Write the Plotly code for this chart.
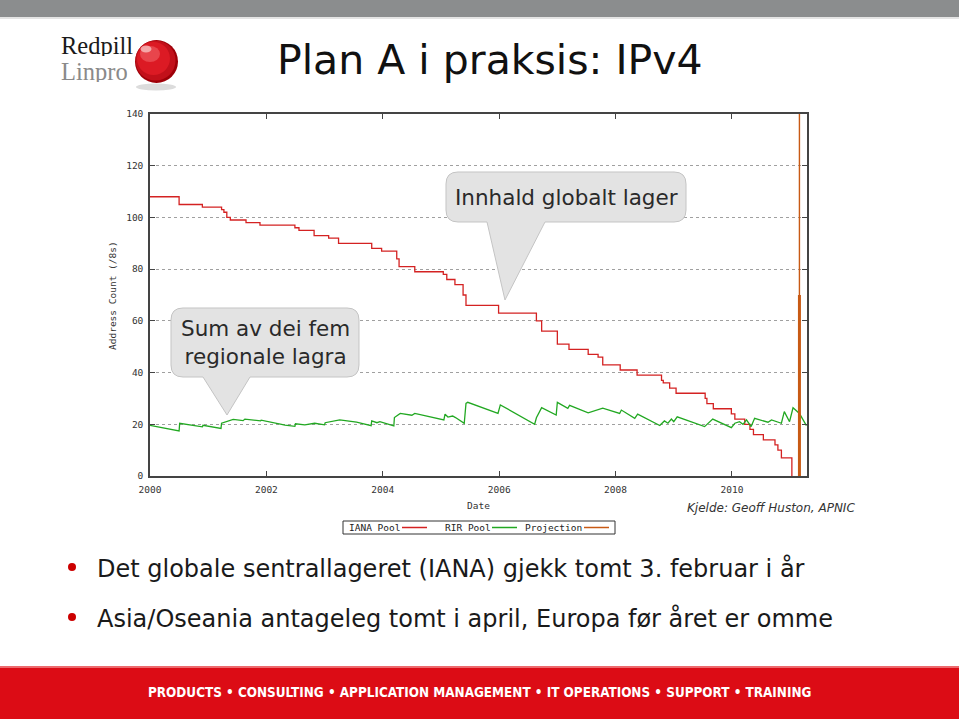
import plotly.graph_objects as go

# ---------------- data ----------------
iana_dates = [2000.00, 2000.50, 2000.90, 2001.23, 2001.27, 2001.32, 2001.38, 2001.65, 2001.89,
              2002.49, 2002.56, 2002.82, 2003.07, 2003.24, 2003.81, 2003.98, 2004.24, 2004.28,
              2004.55, 2005.04, 2005.10, 2005.24, 2005.38, 2005.43, 2005.99, 2006.64, 2006.73,
              2007.00, 2007.20, 2007.53, 2007.70, 2007.78, 2008.08, 2008.37, 2008.79, 2008.82,
              2008.93, 2009.04, 2009.54, 2009.57, 2009.68, 2009.99, 2010.05, 2010.22, 2010.31,
              2010.37, 2010.54, 2010.74, 2010.79, 2010.85, 2011.03]
iana_pool = [108, 105, 104, 103, 102, 100, 99, 98, 97,
             96, 95, 93, 92, 90, 88, 87, 84, 81,
             79, 78, 76, 74, 70, 66, 63, 60, 56,
             51, 49, 47, 46, 43, 41, 39, 37, 36,
             34, 32, 30, 28, 26, 24, 22, 20, 18,
             16, 14, 12, 10, 7, 0]

rir_dates = [2000.00, 2000.50, 2000.51, 2000.62, 2000.71, 2000.90, 2000.91, 2001.22, 2001.23,
             2001.30, 2001.43, 2001.60, 2001.63, 2001.90, 2001.91, 2002.26, 2002.32, 2002.49,
             2002.50, 2002.66, 2002.83, 2003.00, 2003.01, 2003.26, 2003.55, 2003.80, 2003.81,
             2003.90, 2003.95, 2004.19, 2004.20, 2004.30, 2004.50, 2004.55, 2005.05, 2005.07,
             2005.12, 2005.20, 2005.25, 2005.40, 2005.43, 2005.46, 2005.98, 2006.02, 2006.61,
             2006.64, 2006.73, 2006.98, 2007.00, 2007.18, 2007.21, 2007.53, 2007.78, 2008.07,
             2008.10, 2008.33, 2008.38, 2008.76, 2008.84, 2008.90, 2008.96, 2009.00, 2009.06,
             2009.53, 2009.67, 2009.99, 2010.05, 2010.13, 2010.19, 2010.25, 2010.33, 2010.39,
             2010.62, 2010.68, 2010.85, 2010.90, 2010.99, 2011.05, 2011.16, 2011.28]
rir_pool = [19.6, 17.4, 20.4, 20.0, 19.6, 19.0, 19.6, 18.4, 20.4,
            21.0, 21.9, 21.4, 22.0, 21.3, 21.6, 20.0, 19.7, 19.2,
            20.2, 19.8, 20.4, 19.8, 20.6, 21.7, 20.8, 19.5, 21.3,
            20.6, 21.0, 19.4, 22.6, 24.2, 23.5, 24.2, 21.7, 23.9,
            22.8, 23.2, 22.6, 20.4, 28.1, 28.5, 24.2, 27.5, 20.0,
            22.5, 26.4, 23.6, 28.5, 26.2, 27.3, 24.4, 26.2, 24.2,
            25.5, 22.3, 23.9, 19.5, 21.3, 20.4, 22.0, 21.0, 22.9,
            19.1, 22.0, 18.7, 20.4, 21.0, 20.0, 21.7, 19.1, 22.3,
            20.8, 21.7, 20.4, 24.9, 21.0, 26.4, 24.2, 19.5]

proj_dates = [2011.16, 2011.16]
proj_full = [0, 140]
proj_core = [0, 70]

year_ticks = [2000, 2002, 2004, 2006, 2008, 2010]
year_labels = ["2000", "2002", "2004", "2006", "2008", "2010"]
count_ticks = [0, 20, 40, 60, 80, 100, 120, 140]

# ---------------- geometry helpers ----------------
W, H = 959, 719
L, R, T, B = 150, 807, 114, 476


def px(x):
    return (x - L) / (R - L)


def py(y):
    return (B - y) / (B - T)


def P(x, y):
    return f"{px(x):.5f},{py(y):.5f}"


def bubble(x0, y0, x1, y1, r, bx0, bx1, tx, ty):
    return (f"M {P(x0 + r, y0)} L {P(x1 - r, y0)} Q {P(x1, y0)} {P(x1, y0 + r)} "
            f"L {P(x1, y1 - r)} Q {P(x1, y1)} {P(x1 - r, y1)} L {P(bx1, y1)} L {P(tx, ty)} "
            f"L {P(bx0, y1)} L {P(x0 + r, y1)} Q {P(x0, y1)} {P(x0, y1 - r)} "
            f"L {P(x0, y0 + r)} Q {P(x0, y0)} {P(x0 + r, y0)} Z")


def circ(cx, cy, rx, ry, color, opacity=1.0):
    return dict(type="circle", xref="paper", yref="paper", x0=px(cx - rx), x1=px(cx + rx),
                y0=py(cy + ry), y1=py(cy - ry), fillcolor=color, opacity=opacity,
                line=dict(width=0), layer="above")


RED = "#d42222"
GREEN = "#22a822"
ORANGE = "#c85a14"
MONO = "DejaVu Sans Mono"
SANS = "DejaVu Sans"

fig = go.Figure()
fig.add_trace(go.Scatter(x=iana_dates, y=iana_pool, mode="lines", line=dict(color=RED, width=1.3, shape="hv"),
                         name="IANA Pool", showlegend=False))
fig.add_trace(go.Scatter(x=rir_dates, y=rir_pool, mode="lines", line=dict(color=GREEN, width=1.3),
                         name="RIR Pool", showlegend=False))
fig.add_trace(go.Scatter(x=proj_dates, y=proj_full, mode="lines", line=dict(color=ORANGE, width=1.4),
                         name="Projection", showlegend=False))
fig.add_trace(go.Scatter(x=proj_dates, y=proj_core, mode="lines", line=dict(color=ORANGE, width=3),
                         name="Projection", showlegend=False))

shapes = []
# top grey bar
shapes.append(dict(type="rect", xref="paper", yref="paper", x0=px(0), x1=px(W), y0=py(0), y1=py(17),
                   fillcolor="#8b8d8e", line=dict(width=0), layer="above"))
shapes.append(dict(type="rect", xref="paper", yref="paper", x0=px(0), x1=px(W), y0=py(17), y1=py(19),
                   fillcolor="#e4e4e4", line=dict(width=0), layer="above"))
# footer
shapes.append(dict(type="rect", xref="paper", yref="paper", x0=px(0), x1=px(W), y0=py(667), y1=py(H),
                   fillcolor="#dc0c15", line=dict(width=0), layer="above"))
shapes.append(dict(type="rect", xref="paper", yref="paper", x0=px(0), x1=px(W), y0=py(666), y1=py(668),
                   fillcolor="#ec6a6e", line=dict(width=0), layer="above"))
# logo sphere
shapes.append(circ(156, 87, 20, 3.5, "#dcdcdc"))
shapes.append(circ(156.5, 61.5, 21.5, 21.5, "#9e0008"))
shapes.append(circ(155.5, 60.5, 20, 20, "#c2101a"))
shapes.append(circ(153.5, 58.5, 16.5, 16.5, "#dc1a24"))
shapes.append(circ(150, 54, 10, 8, "#e8454c"))
shapes.append(circ(146, 49, 5.5, 3.5, "#f6b8b8", 0.85))
# callout bubbles
shapes.append(dict(type="path", xref="paper", yref="paper",
                   path=bubble(446, 172, 686, 222, 12, 487, 545, 505, 300),
                   fillcolor="#e3e3e3", line=dict(color="#c4c4c4", width=1), layer="above"))
shapes.append(dict(type="path", xref="paper", yref="paper",
                   path=bubble(171, 308, 359, 377, 12, 203, 250, 227, 415),
                   fillcolor="#e3e3e3", line=dict(color="#c4c4c4", width=1), layer="above"))
# legend box
shapes.append(dict(type="rect", xref="paper", yref="paper", x0=px(343), x1=px(615), y0=py(521), y1=py(534),
                   fillcolor="white", line=dict(color="#333", width=1), layer="above"))
for xa, xb, c in [(402, 427, RED), (492, 517, GREEN), (584, 609, ORANGE)]:
    shapes.append(dict(type="line", xref="paper", yref="paper", x0=px(xa), x1=px(xb), y0=py(527.5),
                       y1=py(527.5), line=dict(color=c, width=1.5), layer="above"))
# bullets
for yb in [567, 617]:
    shapes.append(circ(72, yb, 4, 4, "#cc0000"))

ann = []


def A(text, x, y, size, color="#222", family=SANS, xanchor="center", yanchor="middle", **kw):
    ann.append(dict(text=text, x=px(x), y=py(y), xref="paper", yref="paper", showarrow=False,
                    xanchor=xanchor, yanchor=yanchor,
                    font=dict(size=size, color=color, family=family), **kw))


A("Plan A i praksis: IPv4", 275, 60, 41, color="#111", xanchor="left")
A("Redpill", 59, 58, 24.5, color="#1a1a1a", family="Liberation Serif", xanchor="left", yanchor="bottom",
  height=22, valign="middle")
A("Linpro", 59, 58, 24.5, color="#8a8a8a", family="Liberation Serif", xanchor="left", yanchor="top",
  height=22, valign="middle")
A("Innhald globalt lager", 566, 197, 21.5, color="#2a2a2a")
A("Sum av dei fem<br>regionale lagra", 265, 342, 21.5, color="#2a2a2a")
A("Address Count (/8s)", 112, 296, 9.5, color="#333", family=MONO, textangle=-90)
A("Date", 478, 506, 9.5, color="#333", family=MONO)
A("IANA Pool", 347, 527.5, 9.5, color="#222", family=MONO, xanchor="left")
A("RIR Pool", 443, 527.5, 9.5, color="#222", family=MONO, xanchor="left")
A("Projection", 523, 527.5, 9.5, color="#222", family=MONO, xanchor="left")
A("<i>Kjelde: Geoff Huston, APNIC</i>", 857, 508, 12, color="#333", xanchor="right")
A("Det globale sentrallageret (IANA) gjekk tomt 3. februar i år", 95, 568, 24, color="#1a1a1a", xanchor="left")
A("Asia/Oseania antageleg tomt i april, Europa før året er omme", 95, 618, 24, color="#1a1a1a", xanchor="left")
A("<b>PRODUCTS • CONSULTING • APPLICATION MANAGEMENT • IT OPERATIONS • SUPPORT • TRAINING</b>",
  479, 692, 13.4, color="white", family="DejaVu Sans Condensed, DejaVu Sans")

fig.update_layout(
    width=W, height=H, autosize=False,
    margin=dict(l=L, r=W - R, t=T, b=H - B, pad=0),
    paper_bgcolor="white", plot_bgcolor="white",
    showlegend=False,
    shapes=shapes, annotations=ann,
    xaxis=dict(range=[2000, 2011.29], tickvals=year_ticks, ticktext=year_labels,
               showgrid=False, zeroline=False, showline=True, mirror="ticks",
               linecolor="#444", linewidth=1.5, ticks="inside", ticklen=5, tickcolor="#444",
               tickfont=dict(family=MONO, size=9.5, color="#333"), ticklabelstandoff=4),
    yaxis=dict(range=[0, 140], tickvals=count_ticks, showgrid=True, gridcolor="#a0a0a0",
               griddash="dot", gridwidth=1, zeroline=False, showline=True, mirror="ticks",
               linecolor="#444", linewidth=1.5, ticks="inside", ticklen=5, tickcolor="#444",
               tickfont=dict(family=MONO, size=9.5, color="#333"), ticklabelstandoff=3),
)

fig.write_html("out.html")
